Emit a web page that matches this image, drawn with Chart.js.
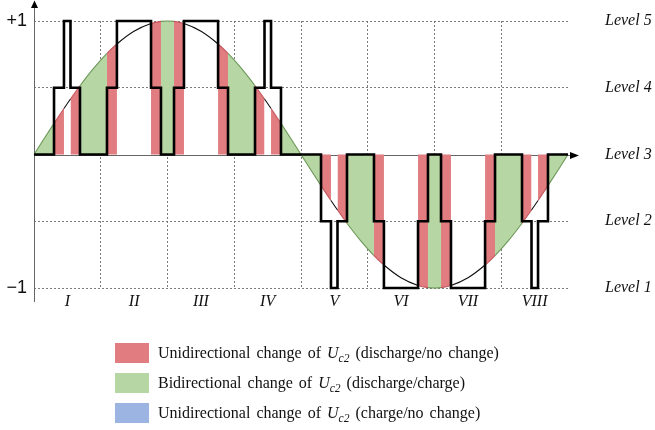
<!DOCTYPE html>
<html>
<head>
<meta charset="utf-8">
<script src="https://cdn.jsdelivr.net/npm/chart.js@4/dist/chart.umd.min.js"></script>
<style>
  html, body { margin: 0; padding: 0; background: #ffffff; }
  #wrap { width: 655px; height: 430px; }
</style>
</head>
<body>
<div id="wrap"><canvas id="c" width="655" height="430"></canvas></div>
<script>
// Phase angle (degrees) of the sample points across one fundamental period
const phaseDeg = [
  0, 6.75, 13.5, 20.2, 24.6, 31, 40, 49.2, 55.9, 67.4, 78.9, 85.6,
  90, 94.4, 101.1, 112.6, 124.1, 130.8, 140, 149, 155.4, 159.8, 166.5, 173.25,
  180, 186.75, 193.5, 200.2, 204.6, 211, 220, 229.2, 235.9, 247.4, 258.9, 265.6,
  270, 274.4, 281.1, 292.6, 304.1, 310.8, 320, 329, 335.4, 339.8, 346.5, 353.25,
  360
];
// Per-unit modulating reference at those phases
const reference = [
  0, 0.118, 0.233, 0.345, 0.416, 0.515, 0.643, 0.757, 0.828, 0.923, 0.981, 0.997,
  1, 0.997, 0.981, 0.923, 0.828, 0.757, 0.643, 0.515, 0.416, 0.345, 0.233, 0.118,
  0, -0.118, -0.233, -0.345, -0.416, -0.515, -0.643, -0.757, -0.828, -0.923, -0.981, -0.997,
  -1, -0.997, -0.981, -0.923, -0.828, -0.757, -0.643, -0.515, -0.416, -0.345, -0.233, -0.118,
  0
];
// Behaviour of U_c2 in each interval between consecutive phases:
// 'D' discharge/no change, 'B' discharge/charge, 'C' charge/no change, '' none
const intervalMode = [
  'B', 'B', 'D', '', 'D', 'B', 'B', 'D', '', '', 'D', 'B',
  'B', 'D', '', '', 'D', 'B', 'B', 'D', '', 'D', 'B', 'B',
  'B', 'B', 'D', '', 'D', 'B', 'B', 'D', '', '', 'D', 'B',
  'B', 'D', '', '', 'D', 'B', 'B', 'D', '', 'D', 'B', 'B'
];
// Switching instants (degrees) and the output level held from each one
const switchDeg = [
  0, 13.5, 20.2, 24.6, 31, 49.2, 55.9, 78.9, 85.6, 94.4, 101.1, 124.1, 130.8, 149, 155.4, 159.8, 166.5,
  193.5, 200.2, 204.6, 211, 229.2, 235.9, 258.9, 265.6, 274.4, 281.1, 304.1, 310.8, 329, 335.4, 339.8, 346.5,
  360
];
const outputLevel = [
  0, 0.5, 1, 0.5, 0, 0.5, 1, 0.5, 0, 0.5, 1, 0.5, 0, 0.5, 1, 0.5, 0,
  -0.5, -1, -0.5, 0, -0.5, -1, -0.5, 0, -0.5, -1, -0.5, 0, -0.5, -1, -0.5, 0,
  0
];
// Axis labels
const sectorLabels = ['I', 'II', 'III', 'IV', 'V', 'VI', 'VII', 'VIII'];
const levelValues = [-1, -0.5, 0, 0.5, 1];
const levelLabels = ['Level 1', 'Level 2', 'Level 3', 'Level 4', 'Level 5'];
const amplitudeValues = [1, -1];
const amplitudeLabels = ['+1', '\u22121'];
// Legend entries: mode key and the text around the U_c2 symbol
const modeKeys = ['D', 'B', 'C'];
const modeLead = ['Unidirectional change of ', 'Bidirectional change of ', 'Unidirectional change of '];
const modeTail = [' (discharge/no change)', ' (discharge/charge)', ' (charge/no change)'];

const FILL = { D: 'rgb(225,124,128)', B: 'rgb(182,214,163)', C: 'rgb(156,180,226)' };
const EDGE = { D: 'rgb(196,86,92)', B: 'rgb(108,152,88)', C: 'rgb(90,120,190)' };
const GRID = 'rgba(110,110,110,0.9)';
const SERIF = '"Liberation Serif", "Times New Roman", serif';

const referencePoints = phaseDeg.map((x, i) => ({ x, y: reference[i] }));
const outputPoints = switchDeg.map((x, i) => ({ x, y: outputLevel[i] }));

// Solid axes with arrow heads
const arrowAxes = {
  id: 'arrowAxes',
  beforeDatasetsDraw(chart) {
    const { ctx, chartArea: a, scales } = chart;
    const y0 = Math.round(scales.y.getPixelForValue(0)) + 0.5;
    const x0 = Math.round(a.left) + 0.5;
    ctx.save();
    ctx.strokeStyle = '#666';
    ctx.lineWidth = 1;
    ctx.beginPath();
    ctx.moveTo(x0, a.bottom + 14);
    ctx.lineTo(x0, 6);
    ctx.moveTo(a.left, y0);
    ctx.lineTo(a.right + 4, y0);
    ctx.stroke();
    ctx.fillStyle = '#000';
    ctx.beginPath();
    ctx.moveTo(x0, 0.5);
    ctx.lineTo(x0 - 3.5, 8);
    ctx.lineTo(x0 + 3.5, 8);
    ctx.closePath();
    ctx.fill();
    ctx.beginPath();
    ctx.moveTo(a.right + 11, y0);
    ctx.lineTo(a.right + 2, y0 - 3.5);
    ctx.lineTo(a.right + 2, y0 + 3.5);
    ctx.closePath();
    ctx.fill();
    ctx.restore();
  }
};

// Legend rows with the italic U and subscript c2
const modeLegend = {
  id: 'modeLegend',
  afterDraw(chart) {
    const ctx = chart.ctx;
    const boxX = 115, boxW = 34, boxH = 20, textX = 158;
    const rowTop = [343, 373, 403];
    ctx.save();
    ctx.textBaseline = 'alphabetic';
    if ('wordSpacing' in ctx) ctx.wordSpacing = '2px';
    modeKeys.forEach((k, i) => {
      ctx.fillStyle = FILL[k];
      ctx.fillRect(boxX, rowTop[i], boxW, boxH);
      ctx.fillStyle = '#111';
      const base = rowTop[i] + 15;
      let x = textX;
      ctx.font = '16px ' + SERIF;
      ctx.fillText(modeLead[i], x, base);
      x += ctx.measureText(modeLead[i]).width;
      ctx.font = 'italic 16px ' + SERIF;
      ctx.fillText('U', x, base);
      x += ctx.measureText('U').width;
      ctx.font = 'italic 11.5px ' + SERIF;
      ctx.fillText('c2', x, base + 4);
      x += ctx.measureText('c2').width;
      ctx.font = '16px ' + SERIF;
      ctx.fillText(modeTail[i], x, base);
    });
    ctx.restore();
  }
};

const sectorCount = sectorLabels.length;
const sectorWidth = 360 / sectorCount;

function noVerticalPadding(s) {
  s.paddingTop = 0;
  s.paddingBottom = 0;
}

new Chart(document.getElementById('c'), {
  data: {
    datasets: [
      {
        type: 'line',
        label: 'Output level',
        data: outputPoints,
        stepped: true,
        borderColor: '#000',
        borderWidth: 2.6,
        pointRadius: 0,
        fill: false,
        clip: false,
        order: 0,
        borderJoinStyle: 'miter'
      },
      {
        type: 'line',
        label: 'Reference',
        data: referencePoints,
        cubicInterpolationMode: 'monotone',
        borderColor: '#111',
        borderWidth: 1.1,
        backgroundColor: 'rgba(0,0,0,0)',
        pointRadius: 0,
        fill: 'origin',
        clip: false,
        order: 1,
        segment: {
          backgroundColor: c => FILL[intervalMode[c.p0DataIndex]] || 'rgba(0,0,0,0)',
          borderColor: c => EDGE[intervalMode[c.p0DataIndex]] || '#111'
        }
      }
    ]
  },
  options: {
    responsive: false,
    animation: false,
    devicePixelRatio: 1,
    layout: { padding: { top: 21, left: 0, right: 0, bottom: 0 }, autoPadding: false },
    plugins: {
      legend: { display: false },
      title: { display: false },
      tooltip: { enabled: false }
    },
    scales: {
      x: {
        type: 'linear',
        min: 0,
        max: 360,
        afterBuildTicks(s) {
          const t = [];
          for (let k = 0; k <= sectorCount * 2; k++) t.push({ value: k * sectorWidth / 2 });
          s.ticks = t;
        },
        afterFit(s) { s.height = 142; s.paddingLeft = 0; s.paddingRight = 0; },
        ticks: {
          autoSkip: false,
          maxRotation: 0,
          padding: 4,
          color: '#111',
          font: { family: SERIF, style: 'italic', size: 16 },
          callback: (v, i) => (i % 2 === 1 ? sectorLabels[(i - 1) / 2] : '')
        },
        grid: {
          drawTicks: false,
          tickLength: 0,
          lineWidth: 1,
          color: c => (c.index % 2 === 0 && c.index > 0 && c.index < sectorCount * 2 ? GRID : 'rgba(0,0,0,0)')
        },
        border: { display: false, dash: [2, 2] }
      },
      y: {
        type: 'linear',
        position: 'left',
        min: -1,
        max: 1,
        afterBuildTicks(s) { s.ticks = levelValues.map(v => ({ value: v })); },
        afterFit(s) { s.width = 34; noVerticalPadding(s); },
        ticks: {
          padding: 7,
          color: '#111',
          font: { family: '"Liberation Sans", Arial, sans-serif', size: 18 },
          callback: v => {
            const i = amplitudeValues.indexOf(v);
            return i >= 0 ? amplitudeLabels[i] : '';
          }
        },
        grid: {
          drawTicks: false,
          tickLength: 0,
          lineWidth: 1,
          color: c => (c.tick && c.tick.value === 0 ? 'rgba(0,0,0,0)' : GRID)
        },
        border: { display: false, dash: [2, 2] }
      },
      y2: {
        type: 'linear',
        position: 'right',
        min: -1,
        max: 1,
        afterBuildTicks(s) { s.ticks = levelValues.map(v => ({ value: v })); },
        afterFit(s) { s.width = 87; noVerticalPadding(s); },
        ticks: {
          padding: 37,
          color: '#111',
          font: { family: SERIF, style: 'italic', size: 16 },
          callback: v => levelLabels[levelValues.indexOf(v)]
        },
        grid: { display: false, drawTicks: false, tickLength: 0 },
        border: { display: false }
      }
    }
  },
  plugins: [arrowAxes, modeLegend]
});
</script>
</body>
</html>
